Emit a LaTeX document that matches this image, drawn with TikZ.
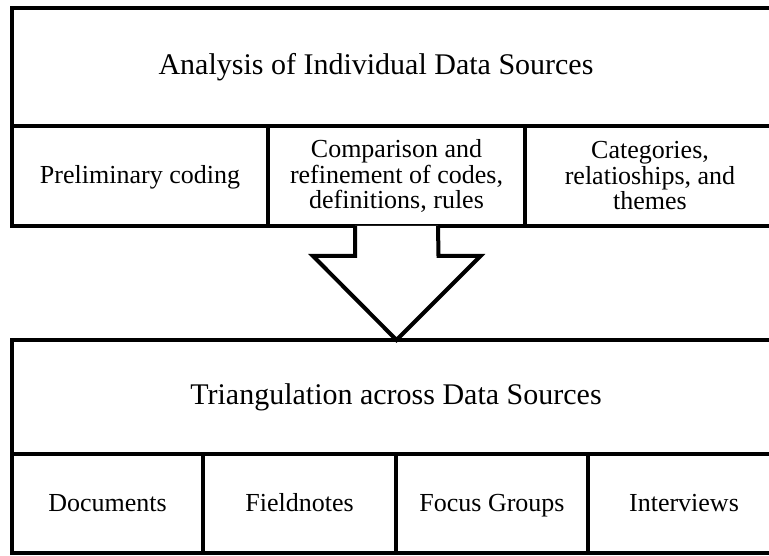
\documentclass[tikz,border=0pt]{standalone}
\usepackage{fontspec}
\setmainfont{Liberation Serif}
\usetikzlibrary{positioning,calc}
\tikzstyle{cell} = [draw, line width=4pt, outer sep=0pt, inner sep=0pt, align=center, font=\fontsize{26}{25.5}\selectfont]
\tikzstyle{oneline} = [text height=20pt, text depth=4pt]
\tikzstyle{head} = [cell, font=\fontsize{30}{34}\selectfont]
\tikzstyle{bigarrow} = [line width=4pt, line join=miter, fill=white]

\begin{document}
\begin{tikzpicture}[x=1pt, y=-1pt]
\useasboundingbox[clip] (0,0) rectangle (769,556);

% upper block
\node[head, minimum width=763pt, minimum height=118pt] (anahead) at (393.5,67) {};
\node[font=\fontsize{30}{34}\selectfont] (anatitle) at (376,67) {Analysis of Individual Data Sources};
\node[cell, oneline, minimum width=256pt, minimum height=100pt, anchor=north west] (prelim) at (anahead.south west) {Preliminary coding};
\node[cell, minimum width=257pt, minimum height=100pt, right=0pt of prelim] (compare) {Comparison and\\refinement of codes,\\definitions, rules};
\node[cell, minimum width=250pt, minimum height=100pt, right=0pt of compare] (themes) {Categories,\\relatioships, and\\themes};

% lower block
\node[head, minimum width=768pt, minimum height=114pt] (trihead) at (396,397) {Triangulation across Data Sources};
\node[cell, oneline, minimum width=191pt, minimum height=99pt, anchor=north west] (docs) at (trihead.south west) {Documents};
\node[cell, oneline, minimum width=193pt, minimum height=99pt, right=0pt of docs] (fieldn) {Fieldnotes};
\node[cell, oneline, minimum width=192pt, minimum height=99pt, right=0pt of fieldn] (focus) {Focus Groups};
\node[cell, oneline, minimum width=192pt, minimum height=99pt, right=0pt of focus] (interv) {Interviews};

% block arrow
\coordinate (tip) at (compare.south |- trihead.north);
\draw[bigarrow] ([xshift=-41.5pt]compare.south) -- ++(0,30) -- ++(-42,0) -- (tip)
  -- ($(tip)+(84,-84)$) -- ++(-42,0) -- ([xshift=41.5pt]compare.south);
\end{tikzpicture}
\end{document}
